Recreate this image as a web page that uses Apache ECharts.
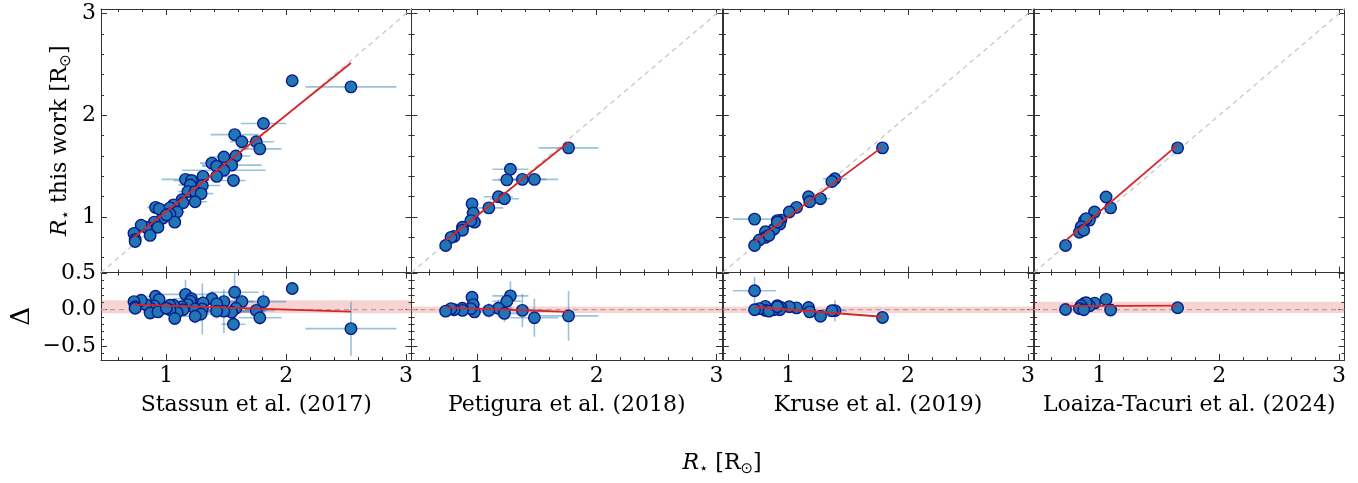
<!DOCTYPE html>
<html>
<head>
<meta charset="utf-8">
<script src="https://cdn.jsdelivr.net/npm/echarts@6/dist/echarts.min.js"></script>
<style>
html, body { margin: 0; padding: 0; background: #fff; }
#chart { width: 1358px; height: 483px; }
</style>
</head>
<body>
<div id="chart"></div>
<script>
// catalogue names (one per column)
var catalogs = ['Stassun et al. (2017)', 'Petigura et al. (2018)', 'Kruse et al. (2019)', 'Loaiza-Tacuri et al. (2024)'];

// Stassun: literature radius, this-work radius, x error, residual error
var stassunLit  = [2.54, 2.05, 1.81, 1.57, 1.63, 1.75, 1.78, 1.58, 1.48, 1.38, 1.42, 1.545, 1.48, 1.42, 1.56, 1.306, 1.16, 1.21, 1.20, 1.30, 1.18, 1.24, 1.29, 1.24, 1.13, 1.14, 1.06, 1.03, 1.09, 1.03, 0.97, 1.07, 0.91, 0.94, 0.90, 0.865, 0.83, 0.79, 0.865, 0.73, 0.74, 0.74, 0.93, 1.00];
var stassunThis = [2.28, 2.34, 1.92, 1.81, 1.74, 1.74, 1.67, 1.60, 1.59, 1.53, 1.50, 1.51, 1.46, 1.40, 1.36, 1.40, 1.37, 1.36, 1.315, 1.31, 1.25, 1.25, 1.23, 1.15, 1.17, 1.14, 1.12, 1.09, 1.05, 1.03, 0.99, 0.95, 1.095, 1.08, 0.95, 0.89, 0.90, 0.92, 0.82, 0.84, 0.78, 0.76, 0.90, 1.02];
var stassunErrX = [0.38, 0.02, 0.19, 0.20, 0.10, 0.15, 0.18, 0.12, 0.12, 0.10, 0.12, 0.25, 0.35, 0.10, 0.10, 0.15, 0.20, 0.15, 0.10, 0.15, 0.08, 0.10, 0.10, 0.10, 0.05, 0.08, 0.08, 0.05, 0.06, 0.04, 0.04, 0.04, 0.07, 0.04, 0.05, 0.04, 0.03, 0.05, 0.03, 0.03, 0.02, 0.02, 0.04, 0.05];
var stassunErrD = [0.37, 0.02, 0.15, 0.38, 0.10, 0.10, 0.10, 0.10, 0.10, 0.10, 0.12, 0.05, 0.30, 0.10, 0.10, 0.10, 0.20, 0.10, 0.10, 0.35, 0.08, 0.10, 0.10, 0.10, 0.05, 0.08, 0.08, 0.05, 0.06, 0.04, 0.04, 0.04, 0.07, 0.04, 0.05, 0.04, 0.03, 0.05, 0.03, 0.03, 0.02, 0.02, 0.04, 0.05];
var stassunFitX = [0.727, 2.54];
var stassunFitY = [0.796, 2.514];

var petiguraLit  = [1.765, 1.28, 1.25, 1.38, 1.48, 1.18, 1.23, 1.10, 0.96, 0.97, 0.98, 0.95, 0.88, 0.88, 0.81, 0.785, 0.74];
var petiguraThis = [1.68, 1.47, 1.365, 1.37, 1.37, 1.20, 1.18, 1.09, 1.13, 1.04, 0.95, 0.965, 0.90, 0.87, 0.81, 0.80, 0.72];
var petiguraErrX = [0.25, 0.15, 0.12, 0.20, 0.20, 0.12, 0.12, 0.12, 0.05, 0.06, 0.06, 0.04, 0.03, 0.03, 0.02, 0.02, 0.02];
var petiguraErrD = [0.34, 0.20, 0.12, 0.23, 0.26, 0.12, 0.12, 0.10, 0.08, 0.06, 0.05, 0.04, 0.03, 0.03, 0.02, 0.02, 0.02];
var petiguraFitX = [0.74, 1.765];
var petiguraFitY = [0.767, 1.736];

var kruseLit  = [1.787, 1.39, 1.365, 1.27, 1.17, 1.18, 1.07, 1.01, 0.94, 0.91, 0.93, 0.88, 0.81, 0.81, 0.76, 0.72, 0.72, 0.84, 0.91];
var kruseThis = [1.68, 1.377, 1.35, 1.18, 1.20, 1.15, 1.095, 1.05, 0.97, 0.965, 0.93, 0.88, 0.855, 0.80, 0.775, 0.72, 0.98, 0.82, 0.95];
var kruseErrX = [0.01, 0.10, 0.04, 0.08, 0.03, 0.03, 0.03, 0.03, 0.05, 0.03, 0.03, 0.03, 0.03, 0.02, 0.02, 0.02, 0.18, 0.02, 0.03];
var kruseErrD = [0.01, 0.15, 0.04, 0.03, 0.03, 0.03, 0.03, 0.03, 0.03, 0.03, 0.03, 0.03, 0.03, 0.02, 0.02, 0.02, 0.19, 0.02, 0.03];
var kruseFitX = [0.72, 1.787];
var kruseFitY = [0.757, 1.69];

var loaizaLit  = [1.653, 1.056, 1.094, 0.96, 0.917, 0.876, 0.89, 0.848, 0.834, 0.87, 0.718];
var loaizaThis = [1.68, 1.197, 1.09, 1.05, 0.97, 0.965, 0.985, 0.905, 0.85, 0.87, 0.72];
var loaizaErrX = [0, 0, 0, 0, 0, 0, 0, 0, 0, 0, 0];
var loaizaErrD = [0, 0, 0, 0, 0, 0, 0, 0, 0, 0, 0];
var loaizaFitX = [0.718, 1.653];
var loaizaFitY = [0.767, 1.71];

// shaded residual band per column
var bandLow  = [-0.05, -0.045, -0.045, -0.045];
var bandHigh = [0.13, 0.045, 0.045, 0.11];

// axis ranges and ticks
var radRange = [0.455, 3.045];
var resRange = [-0.69, 0.51];
var radMajor = [1, 2, 3];
var radMinor = [0.6, 0.8, 1.2, 1.4, 1.6, 1.8, 2.2, 2.4, 2.6, 2.8];
var resMajor = [-0.5, 0, 0.5];
var resMinor = [-0.6, -0.4, -0.3, -0.2, -0.1, 0.1, 0.2, 0.3, 0.4];

var FONT = 'DejaVu Serif';
var chart = echarts.init(document.getElementById('chart'));

var panels = [
    {lit: stassunLit, own: stassunThis, ex: stassunErrX, ed: stassunErrD, fx: stassunFitX, fy: stassunFitY},
    {lit: petiguraLit, own: petiguraThis, ex: petiguraErrX, ed: petiguraErrD, fx: petiguraFitX, fy: petiguraFitY},
    {lit: kruseLit, own: kruseThis, ex: kruseErrX, ed: kruseErrD, fx: kruseFitX, fy: kruseFitY},
    {lit: loaizaLit, own: loaizaThis, ex: loaizaErrX, ed: loaizaErrD, fx: loaizaFitX, fy: loaizaFitY}
];

var lefts = [101, 411.5, 722.8, 1034];
var panelW = 310.5;

var grids = [], xAxes = [], yAxes = [], series = [];

function fmtRad(v) { return String(v); }
function fmtRes(v) {
    if (v === 0) return '0.0';
    return (v < 0 ? '\u2212' : '') + Math.abs(v).toFixed(1);
}

// 4 axes per dimension per grid: main major (labels), main minor, mirrored major, mirrored minor
function addAxes(list, gi, dim, range, major, minor, fmt) {
    var pos = dim === 'x' ? ['bottom', 'top'] : ['left', 'right'];
    var first = list.length;
    [0, 1].forEach(function (side) {
        [major, minor].forEach(function (vals, k) {
            var ax = {
                type: 'value', gridIndex: gi, position: pos[side], offset: 0,
                min: range[0], max: range[1],
                nameMoveOverlap: false,
                axisLine: {show: k === 0, onZero: false, lineStyle: {color: '#333', width: 1}},
                axisTick: {show: true, inside: true, length: k === 0 ? 6 : 3, customValues: vals,
                    lineStyle: {color: '#333', width: 1}},
                axisLabel: {show: false},
                splitLine: {show: false}
            };
            if (side === 0 && k === 0 && fmt) {
                ax.axisLabel = {show: true, customValues: major, formatter: fmt, margin: 5,
                    color: '#000', fontFamily: FONT, fontSize: 22};
            }
            list.push(ax);
        });
    });
    return first;
}

var errColor = 'rgba(31,119,180,0.45)';
function errBars(params, api) {
    var x = api.value(0), y = api.value(1), ex = api.value(2), ey = api.value(3);
    var kids = [];
    if (ex > 0) {
        var a = api.coord([x - ex, y]), b = api.coord([x + ex, y]);
        kids.push({type: 'line', shape: {x1: a[0], y1: a[1], x2: b[0], y2: b[1]}, style: {stroke: errColor, lineWidth: 1.6}});
    }
    if (ey > 0) {
        var c = api.coord([x, y - ey]), d = api.coord([x, y + ey]);
        kids.push({type: 'line', shape: {x1: c[0], y1: c[1], x2: d[0], y2: d[1]}, style: {stroke: errColor, lineWidth: 1.6}});
    }
    return {type: 'group', children: kids};
}

var richStyle = {
    i: {fontStyle: 'italic', fontFamily: FONT, fontSize: 22, lineHeight: 28},
    s: {fontFamily: 'DejaVu Sans', fontSize: 15, verticalAlign: 'bottom'}
};

panels.forEach(function (p, i) {
    grids.push({left: lefts[i], width: panelW, top: 9, height: 263.5, outerBoundsMode: 'none'});
});
panels.forEach(function (p, i) {
    grids.push({left: lefts[i], width: panelW, top: 272.5, height: 87.5, outerBoundsMode: 'none'});
});

panels.forEach(function (p, i) {
    var gTop = i, gRes = i + 4;
    var txi = addAxes(xAxes, gTop, 'x', radRange, radMajor, radMinor, null);
    var tyi = addAxes(yAxes, gTop, 'y', radRange, radMajor, radMinor, i === 0 ? fmtRad : null);
    var rxi = addAxes(xAxes, gRes, 'x', radRange, radMajor, radMinor, fmtRad);
    var ryi = addAxes(yAxes, gRes, 'y', resRange, resMajor, resMinor, i === 0 ? fmtRes : null);

    xAxes[rxi].name = catalogs[i];
    xAxes[rxi].nameLocation = 'middle';
    xAxes[rxi].nameGap = 34;
    xAxes[rxi].nameTextStyle = {fontFamily: FONT, fontSize: 22, color: '#000'};

    if (i === 0) {
        yAxes[tyi].name = '{i|R}{s|\u22c6} this work [R{s|\u2299}]';
        yAxes[tyi].nameLocation = 'middle';
        yAxes[tyi].nameRotate = 90;
        yAxes[tyi].nameGap = 27;
        yAxes[tyi].nameTextStyle = {fontFamily: FONT, fontSize: 22, lineHeight: 28, color: '#000', rich: richStyle};
        yAxes[ryi].name = '\u0394';
        yAxes[ryi].nameLocation = 'middle';
        yAxes[ryi].nameRotate = 90;
        yAxes[ryi].nameGap = 66;
        yAxes[ryi].nameTextStyle = {fontFamily: FONT, fontSize: 26, color: '#000'};
    }

    var topPts = [], resPts = [], topErr = [], resErr = [];
    for (var k = 0; k < p.lit.length; k++) {
        var d = p.own[k] - p.lit[k];
        topPts.push([p.lit[k], p.own[k]]);
        resPts.push([p.lit[k], d]);
        topErr.push([p.lit[k], p.own[k], p.ex[k], 0]);
        resErr.push([p.lit[k], d, p.ex[k], p.ed[k]]);
    }
    var fitTop = [[p.fx[0], p.fy[0]], [p.fx[1], p.fy[1]]];
    var fitRes = [[p.fx[0], p.fy[0] - p.fx[0]], [p.fx[1], p.fy[1] - p.fx[1]]];

    // one-to-one line
    series.push({type: 'line', xAxisIndex: txi, yAxisIndex: tyi, data: [[radRange[0], radRange[0]], [radRange[1], radRange[1]]],
        symbol: 'none', silent: true, z: 0, lineStyle: {color: '#c8c8c8', width: 1.3, type: [5, 4]}});
    series.push({type: 'custom', xAxisIndex: txi, yAxisIndex: tyi, data: topErr, renderItem: errBars, clip: true, silent: true, z: 1});
    series.push({type: 'scatter', xAxisIndex: txi, yAxisIndex: tyi, data: topPts, symbolSize: 11.5, z: 2,
        itemStyle: {color: '#2077b4', borderColor: '#0a1a8c', borderWidth: 1.4, opacity: 1}});
    series.push({type: 'line', xAxisIndex: txi, yAxisIndex: tyi, data: fitTop, symbol: 'none', z: 3,
        lineStyle: {color: '#d62728', width: 1.8}});

    // zero line with shaded band
    series.push({type: 'line', xAxisIndex: rxi, yAxisIndex: ryi, data: [[radRange[0], 0], [radRange[1], 0]],
        symbol: 'none', silent: true, z: 0, lineStyle: {color: '#b8b8b8', width: 1.2, type: [5, 4]},
        markArea: {silent: true, itemStyle: {color: 'rgba(214,39,40,0.2)'},
            data: [[{yAxis: bandLow[i]}, {yAxis: bandHigh[i]}]]}});
    series.push({type: 'custom', xAxisIndex: rxi, yAxisIndex: ryi, data: resErr, renderItem: errBars, clip: true, silent: true, z: 1});
    series.push({type: 'scatter', xAxisIndex: rxi, yAxisIndex: ryi, data: resPts, symbolSize: 11.5, z: 2,
        itemStyle: {color: '#2077b4', borderColor: '#0a1a8c', borderWidth: 1.4, opacity: 1}});
    series.push({type: 'line', xAxisIndex: rxi, yAxisIndex: ryi, data: fitRes, symbol: 'none', z: 3,
        lineStyle: {color: '#d62728', width: 1.8}});
});

var option = {
    animation: false,
    backgroundColor: '#fff',
    grid: grids,
    xAxis: xAxes,
    yAxis: yAxes,
    series: series,
    graphic: [{
        type: 'text', x: 722, y: 463,
        style: {
            text: '{i|R}{s|\u22c6} [R{s|\u2299}]',
            fontFamily: FONT, fontSize: 22, lineHeight: 28, fill: '#000',
            align: 'center', verticalAlign: 'middle',
            rich: {
                i: {fontStyle: 'italic', fontFamily: FONT, fontSize: 22, lineHeight: 28, fill: '#000'},
                s: {fontFamily: 'DejaVu Sans', fontSize: 15, verticalAlign: 'bottom', fill: '#000'}
            }
        }
    }]
};

chart.setOption(option);
</script>
</body>
</html>
